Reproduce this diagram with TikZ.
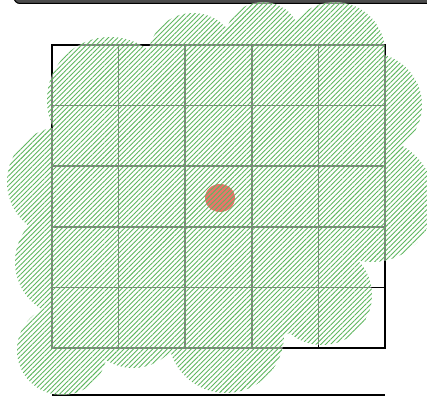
\documentclass[tikz,border=0pt]{standalone}
\usetikzlibrary{patterns.meta}

\definecolor{hatchgreen}{RGB}{95,182,95}
\definecolor{dotred}{RGB}{232,92,82}

\def\blobcircles{110/100/63, 193/58/45, 263/40/38, 335/52/50, 370/105/52,
    372/200/62, 322/295/50, 226/335/58, 133/318/50, 62/350/45,
    70/262/55, 62/182/55, 220/200/150}

\begin{document}
\begin{tikzpicture}[
    x = 1pt, y = -1pt,
    gridline/.style = {
        line width=1.6pt,
        black,
        line cap=rect
    },
    haze/.style = {
        fill=white,
        fill opacity=0.5
    },
    hatch/.style = {
        pattern={Lines[angle=45, distance=3.4pt, line width=0.9pt]},
        pattern color=hatchgreen
    },
    bar/.style = {
        draw=black,
        fill=black!70,
        line width=1pt,
        rounded corners=6pt
    }
]
\useasboundingbox (0,0) rectangle (427,396);
\clip (0,0) rectangle (427,396);

% panel edges
\draw[bar] (14,-20) rectangle (440,3.5);
\coordinate (baseL) at (52,395);
\coordinate (baseR) at (385,395);
\draw[line width=2.4pt] (baseL) -- (baseR);

% 5x5 grid
\foreach \i in {0,...,5} {
    \draw[gridline] (52+66.6*\i,45) -- (52+66.6*\i,348);
    \draw[gridline] (52,45+60.6*\i) -- (385,45+60.6*\i);
}

% covered area
\path[haze] foreach \cx/\cy/\r in \blobcircles {(\cx,\cy) circle[radius=\r pt]};

% target
\fill[dotred, fill opacity=0.85] (220,198) ellipse [x radius=15pt, y radius=14pt];

\path[hatch] foreach \cx/\cy/\r in \blobcircles {(\cx,\cy) circle[radius=\r pt]};

\end{tikzpicture}
\end{document}
